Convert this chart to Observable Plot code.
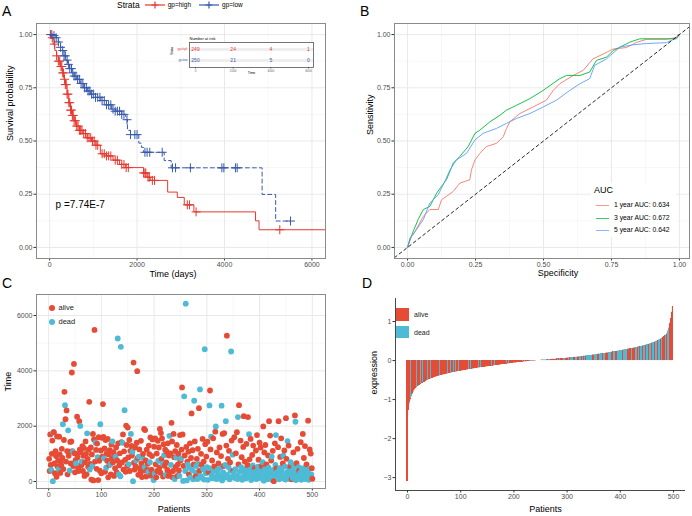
<!DOCTYPE html>
<html>
<head>
<meta charset="utf-8">
<script src="https://cdn.jsdelivr.net/npm/d3@7"></script>
<script src="https://cdn.jsdelivr.net/npm/@observablehq/plot@0.6"></script>
<style>
html,body{margin:0;padding:0;background:#fff;}
#root{position:relative;width:692px;height:516px;overflow:hidden;background:#fff;font-family:"Liberation Sans",Arial,Helvetica,sans-serif;color:#000;}
#root > *{position:absolute;}
.plab{font-size:14px;line-height:14px;}
.leg{line-height:1;white-space:nowrap;}
</style>
</head>
<body>
<div id="root"></div>
<script>
// ---------------- DATA ----------------
// Panel A: Kaplan-Meier steps
const kmHighTime = [0,40,80,120,160,200,250,290,330,360,400,440,480,520,560,620,680,760,860,960,1060,1160,1300,1450,1600,1740,2150,2230,2300,2700,2920,3080,3300,4710,4790,6400];
const kmHighSurv = [1,0.985,0.955,0.925,0.9,0.875,0.85,0.82,0.79,0.765,0.72,0.68,0.645,0.62,0.595,0.57,0.55,0.535,0.515,0.5,0.48,0.44,0.43,0.41,0.39,0.375,0.35,0.33,0.315,0.26,0.235,0.2,0.167,0.125,0.083,0.083];
const kmLowTime = [0,100,150,200,250,290,330,370,410,460,510,560,620,700,780,860,940,1050,1170,1300,1420,1500,1650,1740,1780,1850,2040,2100,2150,2620,2780,4860,5170,5510];
const kmLowSurv = [1,0.995,0.985,0.965,0.94,0.925,0.9,0.88,0.86,0.84,0.82,0.805,0.79,0.77,0.75,0.735,0.72,0.705,0.69,0.67,0.65,0.64,0.625,0.6,0.55,0.53,0.49,0.47,0.447,0.408,0.374,0.249,0.124,0.124];
const censorHighTime = [20,60,110,160,200,230,260,280,300,320,340,360,380,400,420,440,460,480,500,520,540,560,590,620,650,680,710,740,780,820,860,900,940,980,1020,1060,1100,1200,1250,1300,1350,1400,1500,1550,1650,1700,1750,1800,2150,2180,2200,2250,2280,2350,2400,3150,3200,3350,5265];
const censorLowTime = [50,100,150,200,250,300,330,360,400,430,460,500,530,560,600,640,680,720,760,800,840,880,920,960,1000,1050,1100,1150,1200,1250,1300,1350,1400,1450,1500,1550,1600,1650,1700,1770,1850,1950,2000,2180,2230,2290,2575,2810,2880,3220,3940,3985,4250,4290,5510];
const strata = ["gp=high","gp=low"];
const riskTimes = [0,2000,4000,6000];
const riskHigh = [249,24,4,1];
const riskLow = [250,21,5,0];
const pValueLabel = "p =7.74E-7";
const pLabelAt = [137, 0.2];
const timeTicks = [0,2000,4000,6000], timeMinor = [1000,3000,5000];
const probTicks = [0,0.25,0.5,0.75,1], probMinor = [0.125,0.375,0.625,0.875];

// Panel B: ROC curves
const roc1x = [0,0.009,0.021,0.058,0.082,0.113,0.125,0.143,0.168,0.192,0.229,0.235,0.248,0.266,0.29,0.327,0.352,0.364,0.376,0.413,0.462,0.511,0.536,0.56,0.609,0.646,0.682,0.719,0.756,0.805,0.842,0.879,0.952,0.989,0.995,1];
const roc1y = [0,0.045,0.06,0.146,0.178,0.178,0.224,0.24,0.263,0.302,0.318,0.364,0.411,0.442,0.474,0.489,0.52,0.559,0.59,0.629,0.66,0.692,0.738,0.769,0.808,0.832,0.886,0.908,0.932,0.939,0.963,0.978,0.978,0.986,1,1];
const roc3x = [0,0.009,0.021,0.039,0.058,0.082,0.107,0.125,0.143,0.168,0.192,0.223,0.248,0.266,0.303,0.34,0.364,0.401,0.45,0.499,0.56,0.585,0.634,0.67,0.695,0.732,0.756,0.817,0.854,0.989,1];
const roc3y = [0,0.037,0.076,0.131,0.178,0.193,0.255,0.287,0.318,0.396,0.427,0.474,0.536,0.551,0.59,0.621,0.645,0.668,0.699,0.738,0.793,0.808,0.808,0.824,0.879,0.894,0.925,0.964,0.98,0.98,1];
const roc5x = [0,0.015,0.033,0.058,0.082,0.113,0.137,0.156,0.18,0.217,0.248,0.278,0.327,0.364,0.401,0.45,0.499,0.548,0.597,0.634,0.67,0.688,0.732,0.781,0.83,0.879,0.952,0.983,1];
const roc5y = [0,0.053,0.084,0.131,0.209,0.248,0.31,0.364,0.411,0.442,0.505,0.536,0.559,0.583,0.606,0.629,0.66,0.692,0.738,0.769,0.793,0.855,0.886,0.941,0.952,0.958,0.962,0.98,1];
const rocLabels = ["1 year AUC: 0.634","3 year AUC: 0.672","5 year AUC: 0.642"];
const unitTicks = [0,0.25,0.5,0.75,1], unitMinor = [0.125,0.375,0.625,0.875];

// Panel C / D: patients (status a=alive, d=dead), survival time (days), expression (x100)
const statusCodes = "aaaadaadda"+"aaaaaaaada"+"aaaaaadaaa"+"daaaaadaad"+"aaaaadaaaa"+"adaaaaaaad"+"aadaaaaaaa"+"aadaaaadaa"+"aadaaaaada"+"aadaaaadaa"+
"aaaadaaada"+"aaaaaadaaa"+"daaaaadaaa"+"dadaaddaad"+"aaadaaaaaa"+"adaaadaadd"+"aaaaadaaaa"+"daaaaaadaa"+"adaaaaaada"+"adaaaaaada"+
"daaaaaadaa"+"aaaaadaada"+"adaaaaaada"+"adaaaaaada"+"adaaaaadaa"+"daaadadadd"+"adadaadada"+"adadadadad"+"adadaaddaa"+"dadaddadad"+
"adaddaadda"+"dadadaddad"+"dadaddadda"+"daadddaada"+"dadaddadda"+"daddadadda"+"addadaddaa"+"daddadaadd"+"adaddadadd"+"adadaddada"+
"dadaddadad"+"adaddadada"+"daddadadad"+"daddaaddad"+"addaddadda"+"adddaddadd"+"addaddadda"+"daddaddadd"+"dadadaddad"+"daddadadaa";
const survTime = [820,380,1700,600,420,1000,1480,10,1780,1780,
650,300,1100,920,170,1630,540,760,450,1620,
980,310,700,580,1180,850,2070,450,1500,3240,
2760,2250,720,2570,1100,260,1850,930,1080,400,
1430,650,1450,3940,1100,1080,560,4250,1020,330,
770,650,1000,2340,880,470,380,2180,1150,2010,
1060,590,720,1280,380,930,1210,200,690,1450,
1000,260,1740,820,530,1150,2880,430,640,1230,
70,980,560,1720,40,1520,5480,720,1400,1140,
460,1370,880,50,1600,750,390,2070,1120,300,
1580,900,2800,1610,840,1200,350,1500,500,1020,
750,1540,150,980,600,1130,620,260,1340,840,
1450,700,1060,200,930,480,900,1230,330,760,
5170,1380,260,580,1020,190,4870,1420,690,1400,
1700,430,1090,2580,780,350,2020,1320,560,1950,
870,620,1500,380,1110,1720,1290,940,1080,10,
4300,680,430,1230,550,760,1400,3990,850,240,
900,1160,470,320,1470,650,160,860,1000,390,
1900,520,1860,760,180,1150,420,640,350,1300,
990,700,1590,210,430,920,1520,300,50,1260,
280,1560,620,150,1010,380,1470,750,1230,500,
1900,320,1750,820,1560,640,180,1350,950,570,
1150,240,690,1080,420,1380,200,940,1650,330,
1020,600,2120,1450,150,380,1720,880,90,1100,
530,860,1320,200,620,1000,400,200,1680,760,
830,1150,3400,1700,20,560,3080,940,380,6430,
1250,40,720,610,1080,260,500,1380,150,850,
2460,420,1130,80,620,2920,1450,330,180,560,
820,90,1180,640,2650,380,3330,200,1000,600,
130,1540,450,720,70,4780,1350,300,900,520,
1440,60,340,480,2750,3290,1160,1620,220,760,
120,1560,380,550,160,1800,1990,90,1050,420,
260,650,110,1230,470,180,920,2740,40,1720,
330,560,1750,140,600,2180,1300,5270,240,820,
520,1110,80,690,400,4700,1480,170,970,380,
300,1600,130,450,1020,210,1780,90,2330,620,
2760,350,150,1480,520,880,60,380,1250,2360,
240,720,460,110,1360,300,600,2330,190,1710,
800,420,1540,50,330,960,580,1300,200,110,
480,360,1120,90,1680,250,540,790,160,1400,
400,1230,120,560,290,700,1990,30,1050,450,
1320,210,620,360,80,940,500,2180,140,1660,
310,760,900,50,1110,420,10,230,1380,600,
1680,470,190,350,1240,2180,80,480,890,260,
1560,380,120,650,930,200,1120,540,70,2290,
820,330,1460,160,1300,450,90,560,700,240,
80,400,130,1050,560,270,2390,2160,50,660,
380,1180,210,520,390,100,310,1420,60,470,
250,1720,140,850,380,1280,90,540,620,200,
320,2200,60,450,1160,150,1010,260,480,100];
const exprX100 = [-310,-140,-128,-118,-110,-104,-100,-96,-92,-88,
-85,-82,-78,-76,-74,-72,-71,-70,-68,-67,
-66,-65,-64,-63,-62,-61,-60,-59,-58,-58,
-57,-56,-55,-54,-53,-53,-52,-51,-50,-50,
-49,-48,-48,-47,-47,-46,-46,-45,-45,-44,
-44,-43,-43,-42,-42,-41,-41,-40,-40,-40,
-39,-39,-38,-38,-38,-37,-37,-37,-36,-36,
-36,-35,-35,-35,-34,-34,-34,-33,-33,-33,
-32,-32,-32,-31,-31,-31,-30,-30,-30,-30,
-29,-29,-29,-29,-28,-28,-28,-28,-27,-27,
-27,-27,-26,-26,-26,-26,-25,-25,-25,-25,
-24,-24,-24,-24,-23,-23,-23,-23,-22,-22,
-22,-22,-22,-21,-21,-21,-21,-20,-20,-20,
-20,-20,-19,-19,-19,-19,-18,-18,-18,-18,
-18,-17,-17,-17,-17,-17,-16,-16,-16,-16,
-16,-15,-15,-15,-15,-15,-14,-14,-14,-14,
-14,-13,-13,-13,-13,-13,-12,-12,-12,-12,
-12,-12,-11,-11,-11,-11,-11,-10,-10,-10,
-10,-10,-10,-9,-9,-9,-9,-9,-8,-8,
-8,-8,-8,-8,-7,-7,-7,-7,-7,-7,
-6,-6,-6,-6,-6,-6,-5,-5,-5,-5,
-5,-5,-4,-4,-4,-4,-4,-4,-3,-3,
-3,-3,-3,-3,-3,-2,-2,-2,-2,-2,
-2,-2,-1,-1,-1,-1,-1,-1,-1,-1,
-1,-1,0,0,0,0,0,0,0,0,
0,0,1,1,1,1,1,1,1,1,
1,1,1,2,2,2,2,2,2,2,
2,2,3,3,3,3,3,3,3,3,
3,3,4,4,4,4,4,4,4,4,
4,4,5,5,5,5,5,5,5,6,
6,6,6,6,6,6,7,7,7,7,
7,7,7,8,8,8,8,8,8,8,
9,9,9,9,9,9,10,10,10,10,
10,10,11,11,11,11,11,12,12,12,
12,12,12,13,13,13,13,13,14,14,
14,14,14,14,15,15,15,15,15,16,
16,16,16,16,17,17,17,17,17,18,
18,18,18,18,19,19,19,19,19,20,
20,20,20,21,21,21,21,22,22,22,
22,22,23,23,23,23,24,24,24,24,
25,25,25,25,26,26,26,27,27,27,
27,28,28,28,29,29,29,29,30,30,
30,30,31,31,31,31,32,32,32,33,
33,33,33,34,34,34,35,35,35,36,
36,36,37,37,37,38,38,38,39,39,
40,40,40,41,41,42,42,43,43,44,
44,45,45,46,46,47,47,48,49,49,
50,51,51,52,53,53,54,55,56,57,
58,59,60,61,62,63,64,66,68,70,
74,78,83,88,94,100,107,115,124,138];
const statusNames = ["alive","dead"];
const patientTicks = [0,100,200,300,400,500], patientMinor = [50,150,250,350,450];
const dayTicks = [0,2000,4000,6000], dayMinor = [1000,3000,5000];
const exprTicks = [-3,-2,-1,0,1];

// ---------------- STYLE ----------------
const FONT = '"Liberation Sans", Arial, Helvetica, sans-serif';
const KM_RED = "#e6382e", KM_BLUE = "#3759aa";
const ROC_COLORS = ["#F8766D","#00BA38","#619CFF"];
const NPG = ["#E64B35","#4DBBD5"];
const GRID_MAJOR = "#e6e6e6", GRID_MINOR = "#f2f2f2", FRAME = "#8a8a8a";
const baseStyle = {fontFamily: FONT, fontSize: "7px", background: "transparent", overflow: "visible", color: "#4d4d4d"};
const plain = d => String(d);
const axOpts = {tickSize: 2.5, tickPadding: 1.5, fontSize: 7, stroke: "#333", fill: "#4d4d4d", label: null, tickFormat: plain};
const titleOpts = {fontSize: 9, fill: "#000", fontFamily: FONT};

const root = document.getElementById("root");
function put(node, left, top) { node.style.position = "absolute"; node.style.left = left + "px"; node.style.top = top + "px"; root.appendChild(node); return node; }
function html(str) { const d = document.createElement("div"); d.innerHTML = str.trim(); return d.firstElementChild; }
function survAt(T, S, t) { let s = S[0]; for (let k = 0; k < T.length; k++) { if (T[k] <= t) s = S[k]; else break; } return s; }
function bwGrid(xMaj, xMin, yMaj, yMin) {
  return [
    Plot.gridX(xMin, {stroke: GRID_MINOR, strokeOpacity: 1, strokeWidth: 0.6}),
    Plot.gridY(yMin, {stroke: GRID_MINOR, strokeOpacity: 1, strokeWidth: 0.6}),
    Plot.gridX(xMaj, {stroke: GRID_MAJOR, strokeOpacity: 1, strokeWidth: 0.9}),
    Plot.gridY(yMaj, {stroke: GRID_MAJOR, strokeOpacity: 1, strokeWidth: 0.9})
  ];
}

// ---------------- PANEL A ----------------
const kmHigh = kmHighTime.map((t, i) => ({t, s: kmHighSurv[i]}));
const kmLow = kmLowTime.map((t, i) => ({t, s: kmLowSurv[i]}));
const censHigh = censorHighTime.map(t => ({t, s: survAt(kmHighTime, kmHighSurv, t)}));
const censLow = censorLowTime.map(t => ({t, s: survAt(kmLowTime, kmLowSurv, t)}));

const svgA = Plot.plot({
  width: 346, height: 282,
  marginLeft: 36, marginRight: 21, marginTop: 23, marginBottom: 24,
  style: baseStyle,
  x: {domain: [-300, 6310]},
  y: {domain: [-0.052, 1.052]},
  marks: [
    ...bwGrid(timeTicks, timeMinor, probTicks, probMinor),
    Plot.axisX(timeTicks, axOpts),
    Plot.axisY(probTicks, {...axOpts, tickFormat: d3.format(".2f")}),
    Plot.text(["Time (days)"], {text: d => d, frameAnchor: "bottom", dy: 18, dx: -8, ...titleOpts}),
    Plot.text(["Survival probability"], {text: d => d, frameAnchor: "left", rotate: -90, dx: -26, ...titleOpts}),
    Plot.line(kmHigh, {x: "t", y: "s", curve: "step-after", stroke: KM_RED, strokeWidth: 1, clip: true}),
    Plot.line(kmLow, {x: "t", y: "s", curve: "step-after", stroke: KM_BLUE, strokeWidth: 1, strokeDasharray: "4,3", clip: true}),
    Plot.dot(censHigh, {x: "t", y: "s", symbol: "plus", r: 3, stroke: KM_RED, strokeWidth: 1}),
    Plot.dot(censLow, {x: "t", y: "s", symbol: "plus", r: 3, stroke: KM_BLUE, strokeWidth: 1}),
    Plot.text([pValueLabel], {text: d => d, x: pLabelAt[0], y: pLabelAt[1], textAnchor: "start", fontSize: 10, fill: "#000"}),
    Plot.frame({stroke: FRAME, strokeWidth: 1})
  ]
});
put(svgA, 0, 0);

// Number-at-risk inset
const riskRows = [
  ...riskTimes.map((t, i) => ({t, g: strata[0], n: riskHigh[i]})),
  ...riskTimes.map((t, i) => ({t, g: strata[1], n: riskLow[i]}))
];
const svgInset = Plot.plot({
  width: 160, height: 46,
  marginLeft: 29, marginRight: 7, marginTop: 12, marginBottom: 9,
  style: {...baseStyle, fontSize: "3.5px"},
  x: {domain: [-318, 6266]},
  y: {domain: strata, type: "point", padding: 0.6, axis: null},
  color: {domain: strata, range: [KM_RED, KM_BLUE]},
  marks: [
    Plot.frame({fill: "white", stroke: null}),
    Plot.gridY(strata, {stroke: "#eeeeee", strokeOpacity: 1, strokeWidth: 3}),
    Plot.gridX(riskTimes, {stroke: "#f0f0f0", strokeOpacity: 1, strokeWidth: 0.5}),
    Plot.text(riskRows, {x: "t", y: "g", text: "n", fill: "g", fontSize: 5}),
    Plot.text(strata, {text: d => d, y: d => d, frameAnchor: "left", dx: -2, textAnchor: "end", fill: d => d, fontSize: 2.8}),
    Plot.axisX(riskTimes, {tickSize: 1.5, tickPadding: 0.8, fontSize: 3, stroke: "#555", fill: "#666", label: null, tickFormat: plain}),
    Plot.text(["Time"], {text: d => d, frameAnchor: "bottom", dy: 6.5, fontSize: 3.5, fill: "#000"}),
    Plot.text(["Number at risk"], {text: d => d, frameAnchor: "top-left", dy: -5, textAnchor: "start", fontSize: 4, fill: "#000"}),
    Plot.text(["Strata"], {text: d => d, frameAnchor: "left", rotate: -90, dx: -17, fontSize: 3, fill: "#000"}),
    Plot.frame({stroke: "#555", strokeWidth: 0.8})
  ]
});
put(svgInset, 160, 30);

// Strata legend (top)
const plusKey = c => `<svg width="20" height="10" style="vertical-align:middle"><line x1="0" y1="5" x2="20" y2="5" stroke="${c}" stroke-width="1.2"/><path d="M10,1.5V8.5M6.5,5H13.5" stroke="${c}" stroke-width="1.2"/></svg>`;
put(html(`<div class="leg" style="font-size:8.5px;display:flex;align-items:center;height:10px">
  <span style="margin-right:5px">Strata</span>${plusKey(KM_RED)}<span style="font-size:6.5px;margin:0 8px 0 3px">${strata[0]}</span>${plusKey(KM_BLUE)}<span style="font-size:6.5px;margin-left:3px">${strata[1]}</span></div>`), 117, 0);

// ---------------- PANEL B ----------------
const rocSeries = [[roc1x, roc1y], [roc3x, roc3y], [roc5x, roc5y]];
const rocMarks = rocSeries.map(([X, Y], k) =>
  Plot.line(X.map((x, i) => ({x, y: Y[i]})), {x: "x", y: "y", stroke: ROC_COLORS[k], strokeWidth: 0.9, clip: true}));
const diag = [-0.1, 1.1];
const svgB = Plot.plot({
  width: 346, height: 282,
  marginLeft: 48, marginRight: 3, marginTop: 23, marginBottom: 24,
  style: baseStyle,
  x: {domain: [-0.048, 1.037]},
  y: {domain: [-0.052, 1.052]},
  marks: [
    ...bwGrid(unitTicks, unitMinor, unitTicks, unitMinor),
    Plot.axisX(unitTicks, {...axOpts, tickFormat: d3.format(".2f")}),
    Plot.axisY(unitTicks, {...axOpts, tickFormat: d3.format(".2f")}),
    Plot.text(["Specificity"], {text: d => d, frameAnchor: "bottom", dy: 17.5, dx: 16, ...titleOpts}),
    Plot.text(["Sensitivity"], {text: d => d, frameAnchor: "left", rotate: -90, dx: -24, dy: -6, ...titleOpts}),
    ...rocMarks,
    Plot.line(diag, {x: d => d, y: d => d, stroke: "#111", strokeWidth: 0.9, strokeDasharray: "3,3", clip: true}),
    Plot.frame({stroke: FRAME, strokeWidth: 1})
  ]
});
put(svgB, 346, 0);

put(html(`<div style="width:85px;height:54px;background:#fff"></div>`), 591, 183);
put(html(`<div class="leg" style="font-size:9px">AUC</div>`), 594, 186);
rocLabels.forEach((lab, k) => {
  const y = [205, 218, 230][k];
  put(html(`<div style="width:13px;height:1.2px;background:${ROC_COLORS[k]};opacity:0.75"></div>`), 596, y);
  put(html(`<div class="leg" style="font-size:6.8px">${lab}</div>`), 614, y - 3.5);
});

// ---------------- PANEL C ----------------
const statusList = statusCodes.split("").map(c => c === "a" ? statusNames[0] : statusNames[1]);
const patients = survTime.map((t, i) => ({i: i + 1, t, s: statusList[i], v: exprX100[i] / 100}));
const svgC = Plot.plot({
  width: 346, height: 258,
  marginLeft: 36, marginRight: 21, marginTop: 36, marginBottom: 28,
  style: baseStyle,
  x: {domain: [-23, 525]},
  y: {domain: [-253, 6760]},
  color: {domain: statusNames, range: NPG},
  marks: [
    ...bwGrid(patientTicks, patientMinor, dayTicks, dayMinor),
    Plot.axisX(patientTicks, axOpts),
    Plot.axisY(dayTicks, axOpts),
    Plot.text(["Patients"], {text: d => d, frameAnchor: "bottom", dy: 23, dx: -7, ...titleOpts}),
    Plot.text(["Time"], {text: d => d, frameAnchor: "left", rotate: -90, dx: -28, ...titleOpts}),
    Plot.dot(patients, {x: "i", y: "t", fill: "s", r: 2.9}),
    Plot.frame({stroke: FRAME, strokeWidth: 1})
  ]
});
put(svgC, 0, 258);
statusNames.forEach((n, k) => {
  const y = [308, 322][k];
  put(html(`<div style="width:6.6px;height:6.6px;border-radius:50%;background:${NPG[k]}"></div>`), 48.7, y - 3.3);
  put(html(`<div class="leg" style="font-size:7.5px;color:#222">${n}</div>`), 58.5, y - 4);
});

// ---------------- PANEL D ----------------
const dX = [-22.6, 522.6], dY = [-3.33, 1.59];
const barOpts = {x1: d => d.i - 2, x2: d => d.i, y1: 0, y2: "v", fill: "s"};
const svgD = Plot.plot({
  width: 346, height: 258,
  marginLeft: 49, marginRight: 7, marginTop: 40, marginBottom: 26,
  style: baseStyle,
  x: {domain: dX},
  y: {domain: dY},
  color: {domain: statusNames, range: NPG},
  marks: [
    Plot.rect(patients, barOpts),
    Plot.rect(patients, {...barOpts, shapeRendering: "crispEdges"}),
    Plot.ruleX([dX[0]], {stroke: "#333", strokeWidth: 0.9}),
    Plot.ruleY([dY[0]], {stroke: "#333", strokeWidth: 0.9}),
    Plot.axisX(patientTicks, axOpts),
    Plot.axisY(exprTicks, {...axOpts, tickFormat: d => d < 0 ? "\u2212" + Math.abs(d) : String(d)}),
    Plot.text(["Patients"], {text: d => d, frameAnchor: "bottom", dy: 21, dx: 5, ...titleOpts}),
    Plot.text(["expression"], {text: d => d, frameAnchor: "left", rotate: -90, dx: -21, ...titleOpts})
  ]
});
put(svgD, 346, 258);
statusNames.forEach((n, k) => {
  const y = [308, 325.7][k];
  put(html(`<div style="width:12.7px;height:12.7px;background:${NPG[k]}"></div>`), 396, y);
  put(html(`<div class="leg" style="font-size:7px;color:#222">${n}</div>`), 414, y + 2.8);
});

// Panel letters
[["A", 2, 4], ["B", 360, 4], ["C", 2, 276], ["D", 362, 276]].forEach(([t, x, y]) =>
  put(html(`<div class="plab">${t}</div>`), x, y));
</script>
</body>
</html>
